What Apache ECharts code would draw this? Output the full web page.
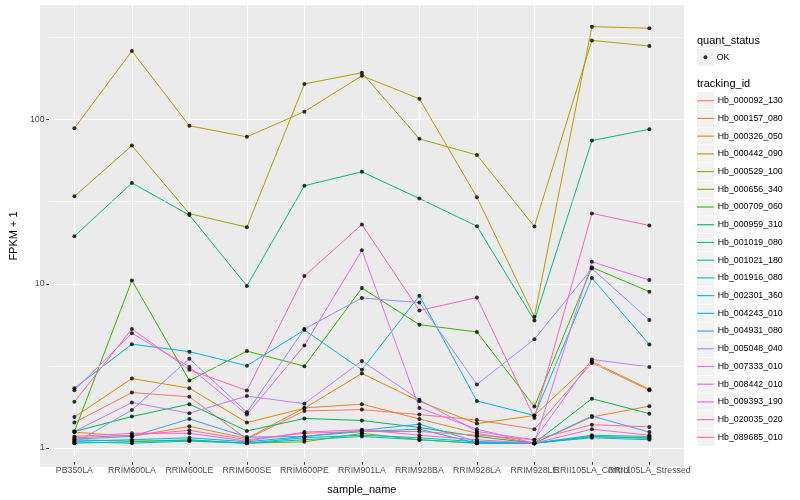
<!DOCTYPE html>
<html><head><meta charset="utf-8">
<script src="https://cdn.jsdelivr.net/npm/echarts@6/dist/echarts.min.js"></script>
<style>html,body{margin:0;padding:0;background:#fff}#c{width:800px;height:500px}</style>
</head><body><div id="c"></div>
<script>
const categories = ['PB350LA','RRIM600LA','RRIM600LE','RRIM600SE','RRIM600PE','RRIM901LA','RRIM928BA','RRIM928LA','RRIM928LE','RRII105LA_Control','RRII105LA_Stressed'];
const trackingIds = ['Hb_000092_130','Hb_000157_080','Hb_000326_050','Hb_000442_090','Hb_000529_100','Hb_000656_340','Hb_000709_060','Hb_000959_310','Hb_001019_080','Hb_001021_180','Hb_001916_080','Hb_002301_360','Hb_004243_010','Hb_004931_080','Hb_005048_040','Hb_007333_010','Hb_008442_010','Hb_009393_190','Hb_020035_020','Hb_089685_010'];
const yTicks = [1, 10, 100];
const yMinorBreaks = [3.1623, 31.623, 316.23];

const hb_000092_130 = [1.34, 2.05, 1.93, 1.06, 1.58, 1.61, 1.50, 1.39, 1.22, 3.12, 2.12];
const hb_000157_080 = [1.17, 1.10, 1.27, 1.07, 1.65, 1.74, 1.41, 1.15, 1.00, 1.45, 1.69];
const hb_000326_050 = [1.45, 2.50, 2.18, 1.34, 1.64, 2.69, 1.81, 1.32, 1.48, 3.18, 2.15];
const hb_000442_090 = [87, 260, 90, 77, 110, 183, 132, 32.7, 6.0, 367, 359];
const hb_000529_100 = [33.1, 68, 25.9, 21.4, 163, 191, 74.8, 59.5, 21.6, 302, 279];
const hb_000656_340 = [1.05, 1.03, 1.04, 1.00, 1.02, 1.15, 1.05, 1.00, 1.00, 1.10, 1.08];
const hb_000709_060 = [1.18, 10.05, 2.43, 3.69, 2.98, 9.02, 5.37, 4.84, 1.68, 12.1, 8.57];
const hb_000959_310 = [1.18, 1.46, 1.74, 1.19, 1.42, 1.38, 1.25, 1.10, 1.00, 1.88, 1.52];
const hb_001019_080 = [18.8, 40, 25.4, 9.3, 38.5, 46.9, 32.1, 21.7, 5.7, 73, 85.7];
const hb_001021_180 = [1.00, 1.02, 1.05, 1.00, 1.05, 1.10, 1.05, 1.00, 1.00, 1.10, 1.07];
const hb_001916_080 = [1.02, 1.00, 1.03, 1.00, 1.08, 1.12, 1.08, 1.02, 1.00, 1.12, 1.10];
const hb_002301_360 = [2.18, 4.07, 3.66, 3.00, 4.98, 2.83, 8.1, 1.82, 1.48, 10.4, 4.05];
const hb_004243_010 = [1.03, 1.05, 1.08, 1.02, 1.10, 1.18, 1.22, 1.00, 1.00, 1.08, 1.05];
const hb_004931_080 = [1.06, 1.10, 1.41, 1.09, 1.10, 1.20, 1.31, 1.02, 1.00, 1.47, 1.17];
const hb_005048_040 = [1.00, 1.60, 3.31, 1.55, 5.05, 7.84, 7.34, 2.30, 4.37, 11.9, 5.73];
const hb_007333_010 = [1.18, 1.78, 1.53, 1.95, 1.75, 3.21, 1.85, 1.18, 1.05, 3.28, 2.95];
const hb_008442_010 = [2.12, 4.75, 2.95, 1.50, 4.0, 15.4, 1.65, 1.22, 1.00, 13.1, 10.1];
const hb_009393_190 = [1.10, 1.15, 1.15, 1.03, 1.17, 1.21, 1.12, 1.05, 1.00, 1.22, 1.12];
const hb_020035_020 = [1.80, 5.05, 2.83, 2.11, 10.7, 22.2, 6.56, 7.88, 1.43, 26, 21.9];
const hb_089685_010 = [1.08, 1.12, 1.20, 1.05, 1.15, 1.18, 1.18, 1.12, 1.05, 1.30, 1.26];

const seriesValues = [hb_000092_130, hb_000157_080, hb_000326_050, hb_000442_090, hb_000529_100, hb_000656_340, hb_000709_060, hb_000959_310, hb_001019_080, hb_001021_180, hb_001916_080, hb_002301_360, hb_004243_010, hb_004931_080, hb_005048_040, hb_007333_010, hb_008442_010, hb_009393_190, hb_020035_020, hb_089685_010];

const palette = ['#F8766D','#EA8331','#D89000','#C09B00','#A3A500','#7CAE00','#39B600','#00BB4E','#00BF7D','#00C1A3','#00BFC4','#00BAE0','#00B0F6','#35A2FF','#9590FF','#C77CFF','#E76BF3','#FA62DB','#FF62BC','#FF6C91'];

const FONT = "'Liberation Sans', Arial, Helvetica, sans-serif";
const yMin = 0.766, yMax = 499;

const chart = echarts.init(document.getElementById('c'), null, {renderer: 'canvas'});

const lineSeries = trackingIds.map((id, k) => ({
  name: id, type: 'line', xAxisIndex: 1, yAxisIndex: 1,
  data: seriesValues[k], showSymbol: false, symbol: 'none',
  lineStyle: {color: palette[k], width: 1}, itemStyle: {color: palette[k]},
  z: 2, clip: false, emphasis: {disabled: true}, silent: true
}));

const pointData = [];
seriesValues.forEach(arr => arr.forEach((v, i) => pointData.push([categories[i], v])));

const legendBoxes = [];
legendBoxes.push({type: 'rect', shape: {x: 697, y: 48.8, width: 17, height: 17}, style: {fill: '#F2F2F2'}, z: -1, silent: true});
trackingIds.forEach((id, k) => legendBoxes.push({type: 'rect', shape: {x: 697, y: 92.2 + k * 17.72, width: 17, height: 17}, style: {fill: '#F2F2F2'}, z: -1, silent: true}));

const option = {
  animation: false,
  backgroundColor: '#ffffff',
  textStyle: {fontFamily: FONT},
  graphic: [
    {type: 'rect', shape: {x: 40, y: 5, width: 644, height: 462}, style: {fill: '#EBEBEB'}, z: -2, silent: true}
  ].concat(legendBoxes),
  title: [
    {text: 'quant_status', left: 697, top: 34, padding: 0, textStyle: {fontSize: 11, fontWeight: 'normal', color: '#000', fontFamily: FONT, lineHeight: 13}},
    {text: 'tracking_id', left: 697, top: 77.5, padding: 0, textStyle: {fontSize: 11, fontWeight: 'normal', color: '#000', fontFamily: FONT, lineHeight: 13}}
  ],
  legend: [
    {
      data: [{name: 'OK', icon: 'circle', itemStyle: {color: '#000'}}],
      left: 703.5, top: 48.8, padding: 0, itemWidth: 4, itemHeight: 4, selectedMode: false,
      textStyle: {fontSize: 8.8, color: '#000', fontFamily: FONT, lineHeight: 17, padding: [0, 0, 0, 4.2]}
    },
    {
      data: trackingIds.map((id, k) => ({name: id, icon: 'path://M0,0H16V1.05H0Z', itemStyle: {color: palette[k]}})),
      orient: 'vertical', left: 697, top: 92.2, padding: 0,
      itemWidth: 17, itemHeight: 17, itemGap: 0.72, selectedMode: false,
      textStyle: {fontSize: 8.8, color: '#000', fontFamily: FONT, lineHeight: 17, padding: [0, 0, 0, -1.3]}
    }
  ],
  grid: [
    {left: 40, top: 5, width: 644, height: 462, containLabel: false},
    {left: 74.4, top: 5, width: 575, height: 462, containLabel: false}
  ],
  xAxis: [
    {type: 'value', gridIndex: 0, min: 0, max: 1, show: false},
    {
      type: 'category', gridIndex: 1, data: categories, boundaryGap: false,
      axisLine: {show: false},
      axisTick: {show: true, length: 2.75, lineStyle: {color: '#333333', width: 1}},
      axisLabel: {interval: 0, color: '#4D4D4D', fontSize: 8.8, margin: 4, fontFamily: FONT},
      splitLine: {show: true, lineStyle: {color: '#FFFFFF', width: 1.07}},
      name: 'sample_name', nameLocation: 'middle', nameGap: 22,
      nameTextStyle: {fontSize: 11, color: '#000', fontFamily: FONT}
    }
  ],
  yAxis: [
    {
      type: 'log', logBase: 10, gridIndex: 0, min: yMin, max: yMax,
      axisLine: {show: false},
      axisTick: {show: true, length: 2.75, customValues: yTicks, lineStyle: {color: '#333333', width: 1}},
      axisLabel: {color: '#4D4D4D', fontSize: 8.8, margin: 4.5, customValues: yTicks, fontFamily: FONT},
      splitLine: {show: true, lineStyle: {color: '#FFFFFF', width: 1.07}},
      minorTick: {show: false}, minorSplitLine: {show: false},
      name: 'FPKM + 1', nameLocation: 'middle', nameGap: 27, nameRotate: 90,
      nameTextStyle: {fontSize: 11, color: '#000', fontFamily: FONT}
    },
    {type: 'log', logBase: 10, gridIndex: 1, min: yMin, max: yMax, show: false, splitLine: {show: false}}
  ],
  series: [
    {
      name: 'gridMinor', type: 'line', xAxisIndex: 0, yAxisIndex: 0, data: [], z: 1, silent: true,
      markLine: {
        silent: true, symbol: 'none', label: {show: false}, animation: false,
        lineStyle: {color: '#FFFFFF', width: 0.55, type: 'solid'},
        emphasis: {disabled: true},
        data: yMinorBreaks.map(v => ({yAxis: v}))
      }
    }
  ].concat(lineSeries).concat([
    {
      name: 'OK', type: 'scatter', xAxisIndex: 1, yAxisIndex: 1, data: pointData,
      symbol: 'circle', symbolSize: 4, itemStyle: {color: '#000000'}, z: 5, silent: true, clip: false
    }
  ])
};
chart.setOption(option);
</script></body></html>
